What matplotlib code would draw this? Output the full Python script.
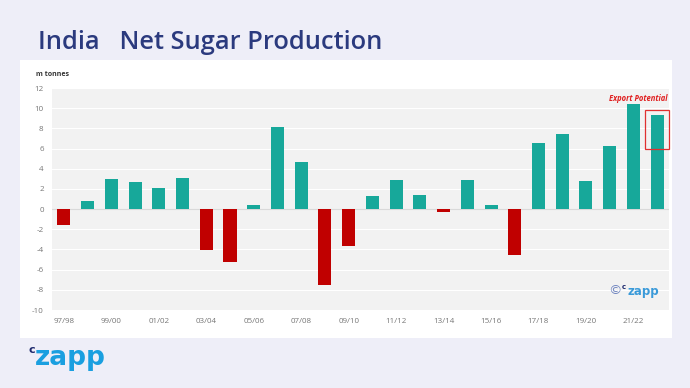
import matplotlib.pyplot as plt
from matplotlib.patches import Rectangle

seasons = ['97/98', '98/99', '99/00', '00/01', '01/02', '02/03', '03/04', '04/05',
           '05/06', '06/07', '07/08', '08/09', '09/10', '10/11', '11/12', '12/13',
           '13/14', '14/15', '15/16', '16/17', '17/18', '18/19', '19/20', '20/21',
           '21/22', '22/23']
net_production = [-1.6, 0.8, 3.0, 2.7, 2.1, 3.1, -4.1, -5.2, 0.4, 8.1, 4.65, -7.55, -3.7,
                  1.35, 2.85, 1.45, -0.25, 2.9, 0.4, -4.55, 6.6, 7.45, 2.8, 6.25, 10.4, 9.3]
yticks = list(range(-10, 13, 2))

TEAL = '#17a89a'
RED = '#c00000'
NAVY = '#2b3a7e'

plt.rcParams['font.family'] = ['Open Sans', 'DejaVu Sans']

fig = plt.figure(figsize=(6.9, 3.88), dpi=100)
fig.patch.set_facecolor('#eeeef8')

# white card behind the chart
fig.patches.append(Rectangle((0.029, 0.129), 0.945, 0.716, transform=fig.transFigure,
                             facecolor='white', edgecolor='none', zorder=0))

fig.text(0.055, 0.89, 'India   Net Sugar Production', fontsize=18.3, fontweight='semibold',
         color=NAVY, va='center', ha='left')
fig.text(0.052, 0.808, 'm tonnes', fontsize=5, fontweight='bold', color='#333333',
         va='center', ha='left')

ax = fig.add_axes([0.0754, 0.201, 0.8942, 0.572])
ax.set_zorder(2)
ax.set_facecolor('#f2f2f2')

x = range(len(seasons))
colors = [TEAL if v >= 0 else RED for v in net_production]
ax.bar(x, net_production, width=0.55, color=colors, zorder=3)

ax.set_xlim(-0.5, len(seasons) - 0.5)
ax.set_ylim(-10, 12)
ax.set_yticks(yticks)
ax.set_yticklabels([str(t) for t in yticks])
ax.set_xticks(list(x)[::2])
ax.set_xticklabels(seasons[::2])
ax.grid(axis='y', color='white', linewidth=0.8, zorder=1)
ax.axhline(0, color='#d9d9d9', linewidth=0.8, zorder=2)
ax.tick_params(axis='both', length=0, labelsize=5.8, colors='#777777', pad=6)
for s in ax.spines.values():
    s.set_visible(False)

# highlight on the last season
last = len(seasons) - 1
ax.add_patch(Rectangle((last - 0.5, 6.0), 1.0, 3.85, facecolor='none', edgecolor='#e03030',
                       linewidth=0.9, zorder=4, clip_on=False))
ax.text(last + 0.45, 10.95, 'Export Potential', fontsize=5.5, fontweight='bold',
        fontstyle='italic', color='#e02020', ha='right', va='center')

# watermark
ax.text(0.902, 0.09, '\u00a9', transform=ax.transAxes, fontsize=9.5,
        color='#7085c0', ha='left', va='center', family=['DejaVu Sans'], zorder=5)
ax.text(0.924, 0.105, 'c', transform=ax.transAxes, fontsize=5, fontweight='bold',
        color='#1e2a6e', ha='left', va='center', family=['DejaVu Sans'], zorder=5)
ax.text(0.933, 0.085, 'zapp', transform=ax.transAxes, fontsize=8.5, fontweight='bold',
        color='#3a9ad9', ha='left', va='center', family=['DejaVu Sans'], zorder=5)

# logo bottom-left
fig.text(0.041, 0.097, 'c', fontsize=8, fontweight='bold', color='#1e2a6e', va='center',
         family=['DejaVu Sans'])
fig.text(0.051, 0.078, 'zapp', fontsize=19, fontweight='bold', color='#1a9fe0', va='center',
         family=['DejaVu Sans'])

fig.savefig('out.png', dpi=100, facecolor=fig.get_facecolor())
